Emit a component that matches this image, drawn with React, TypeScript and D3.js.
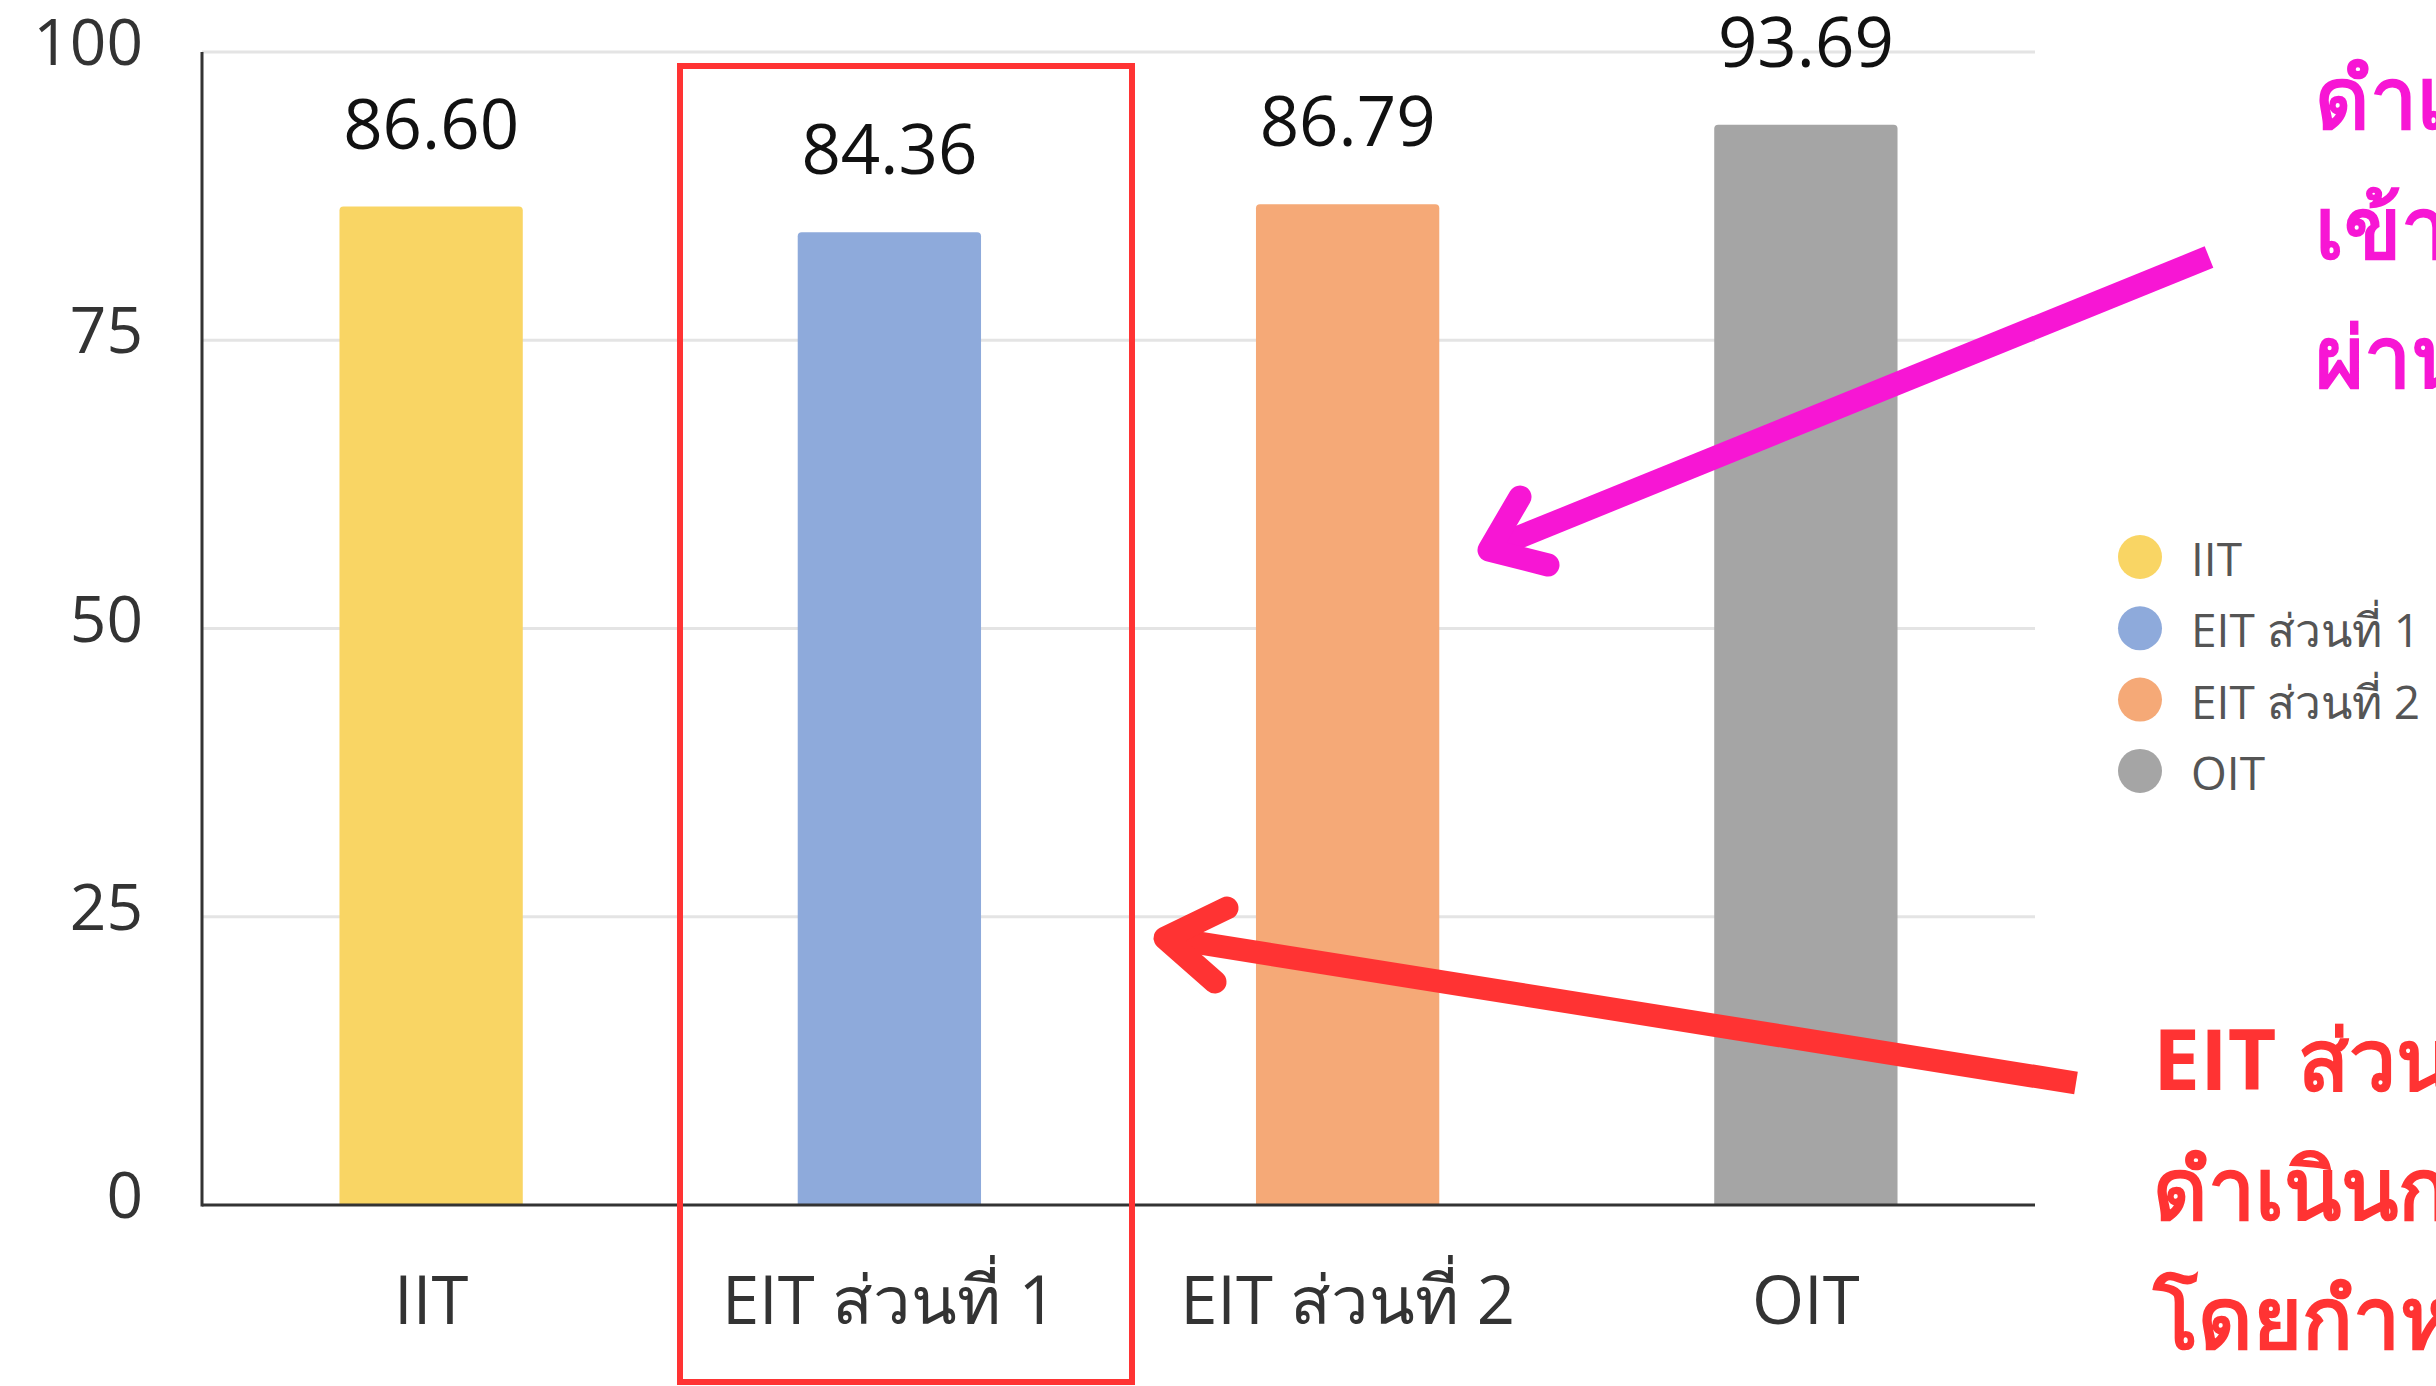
import React from 'react';
import * as d3 from 'd3';

const categories = ['IIT', 'EIT ส่วนที่ 1', 'EIT ส่วนที่ 2', 'OIT'];
const scores = [86.6, 84.36, 86.79, 93.69];
const colors = ['#f9d564', '#8eaadb', '#f5a977', '#a5a5a5'];
const yTicks = [0, 25, 50, 75, 100];

const pinkNote = ['ดำเนินการ', 'เข้าร่วม', 'ผ่านเกณฑ์'];
const redNote = ['EIT ส่วนที่ 1', 'ดำเนินการ', 'โดยกำหนด'];

const W = 2436;
const H = 1386;
const margin = { top: 52, right: 401, bottom: 181, left: 202 };
const font = '"Open Sans", "Noto Sans", sans-serif';

function topRounded(x: number, y: number, w: number, h: number, r: number) {
  return `M${x},${y + h}V${y + r}Q${x},${y} ${x + r},${y}H${x + w - r}Q${x + w},${y} ${x + w},${y + r}V${y + h}Z`;
}

export default function App() {
  const x = d3
    .scaleBand<string>()
    .domain(categories)
    .range([margin.left, W - margin.right])
    .paddingInner(0.6)
    .paddingOuter(0.3);

  const y = d3.scaleLinear().domain([0, 100]).range([H - margin.bottom, margin.top]);

  const redArrow = d3.line()([[2076, 1083], [1168, 938]]);
  const redHead = d3.line()([[1227, 908], [1165, 938], [1215, 982]]);
  const pinkArrow = d3.line()([[2209, 257], [1492, 548]]);
  const pinkHead = d3.line()([[1520, 497], [1489, 550], [1548, 565]]);

  return (
    <svg
      width={W}
      height={H}
      style={{ position: 'absolute', left: 0, top: 0, background: '#fff', display: 'block' }}
    >
      {/* grid + y ticks */}
      {yTicks.map((t) => (
        <g key={t}>
          {t > 0 && (
            <line x1={margin.left} x2={W - margin.right} y1={y(t)} y2={y(t)} stroke="#e4e4e4" strokeWidth={3} />
          )}
          <text x={143} y={y(t) + 13} textAnchor="end" fontFamily={font} fontSize={64} fill="#333">
            {t}
          </text>
        </g>
      ))}

      {/* bars */}
      {categories.map((c, i) => {
        const bx = x(c) as number;
        const top = y(scores[i]);
        return (
          <g key={c}>
            <path d={topRounded(bx, top, x.bandwidth(), y(0) - top, 4)} fill={colors[i]} />
            <text
              x={bx + x.bandwidth() / 2}
              y={top - 58}
              textAnchor="middle"
              fontFamily={font}
              fontSize={69}
              fill="#111"
            >
              {scores[i].toFixed(2)}
            </text>
            <text
              x={bx + x.bandwidth() / 2}
              y={1324}
              textAnchor="middle"
              fontFamily={font}
              fontSize={67}
              fill="#333"
            >
              {c}
            </text>
          </g>
        );
      })}

      {/* axes */}
      <line x1={margin.left} x2={margin.left} y1={margin.top} y2={y(0) + 1.5} stroke="#333" strokeWidth={3} />
      <line x1={margin.left} x2={W - margin.right} y1={y(0)} y2={y(0)} stroke="#333" strokeWidth={3} />

      {/* legend */}
      {categories.map((c, i) => (
        <g key={c} transform={`translate(2140,${557 + i * 71.3})`}>
          <circle r={22} fill={colors[i]} />
          <text x={51} y={19} fontFamily={font} fontSize={46} fill="#555">
            {c}
          </text>
        </g>
      ))}

      {/* highlight box */}
      <rect x={680} y={66} width={452} height={1316} fill="none" stroke="#ff3333" strokeWidth={6} />

      {/* arrows */}
      <path d={redArrow ?? ''} stroke="#ff3333" strokeWidth={23} fill="none" />
      <path d={redHead ?? ''} stroke="#ff3333" strokeWidth={23} fill="none" strokeLinecap="round" strokeLinejoin="round" />
      <path d={pinkArrow ?? ''} stroke="#f716d4" strokeWidth={23} fill="none" />
      <path d={pinkHead ?? ''} stroke="#f716d4" strokeWidth={23} fill="none" strokeLinecap="round" strokeLinejoin="round" />

      {/* notes */}
      {pinkNote.map((s, i) => (
        <text key={s} x={2315} y={128 + i * 129.5} fontFamily={font} fontWeight={700} fontSize={84} fill="#f716d4">
          {s}
        </text>
      ))}
      {redNote.map((s, i) => (
        <text key={s} x={2153} y={1090 + i * 129} fontFamily={font} fontWeight={700} fontSize={84} fill="#ff3333">
          {s}
        </text>
      ))}
    </svg>
  );
}
